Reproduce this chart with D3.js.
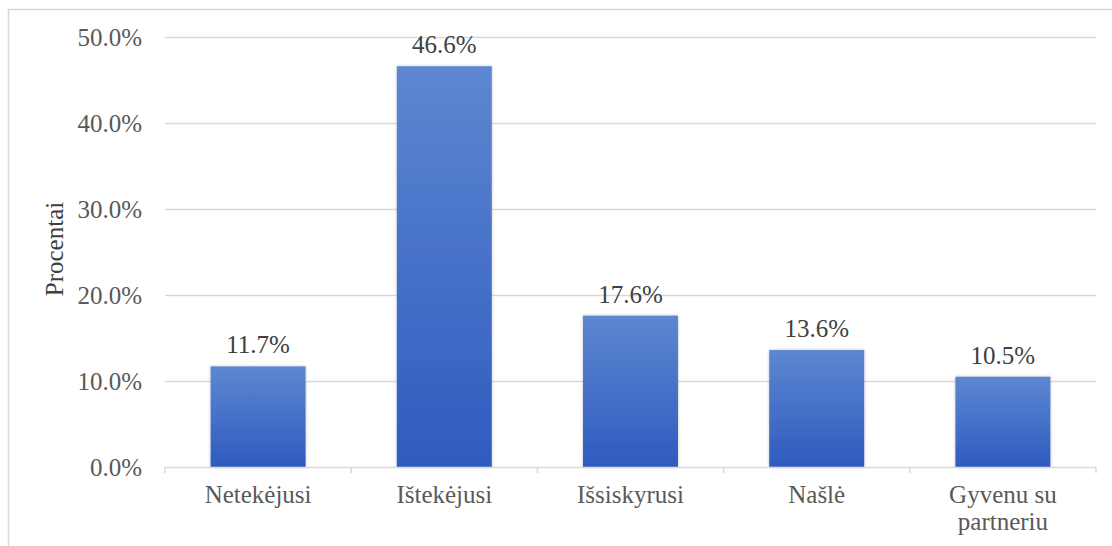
<!DOCTYPE html>
<html><head><meta charset="utf-8">
<script src="https://cdn.jsdelivr.net/npm/d3@7"></script>
<style>body{margin:0;background:#fff;}svg{display:block;} text{font-family:"Liberation Serif","Times New Roman",serif;}</style>
</head><body>
<svg id="c" width="1112" height="546"></svg>
<script>
const categories = [["Netekėjusi"],["Ištekėjusi"],["Išsiskyrusi"],["Našlė"],["Gyvenu su","partneriu"]];
const values = [11.7, 46.6, 17.6, 13.6, 10.5];
const yTicks = [0, 10, 20, 30, 40, 50];
const yTitle = "Procentai";

const svg = d3.select("#c");
const m = {l:165, r:1096, t:37, b:467};
const font = "Liberation Serif";
const fs = "25px";
const txt = "#595959";

// outer border
svg.append("path").attr("d","M8.5,546 L8.5,9.5 L1112,9.5").attr("fill","none").attr("stroke","#d9d9d9").attr("stroke-width",1.5);

const x = d3.scaleBand().domain(categories.map((d,i)=>i)).range([m.l,m.r]).paddingInner(0.49).paddingOuter(0.245);
const y = d3.scaleLinear().domain([0,50]).range([m.b,m.t]);

const defs = svg.append("defs");
const g = defs.append("linearGradient").attr("id","bg").attr("x1",0).attr("y1",0).attr("x2",0).attr("y2",1);
g.append("stop").attr("offset","0%").attr("stop-color","#5d87d1");
g.append("stop").attr("offset","100%").attr("stop-color","#2f5bbf");
const f = defs.append("filter").attr("id","sh").attr("x","-10%").attr("y","-10%").attr("width","120%").attr("height","120%");
f.append("feDropShadow").attr("dx",0).attr("dy",0).attr("stdDeviation",1.5).attr("flood-color","#000").attr("flood-opacity",0.25);

// grid
svg.append("g").selectAll("line").data(yTicks.filter(t=>t>0)).join("line")
  .attr("x1",m.l).attr("x2",m.r).attr("y1",d=>Math.round(y(d))+0.5).attr("y2",d=>Math.round(y(d))+0.5)
  .attr("stroke","#d9d9d9").attr("stroke-width",1.5);

// y axis labels
const ya = svg.append("g").attr("transform",`translate(${m.l},0)`)
  .call(d3.axisLeft(y).tickValues(yTicks).tickSize(0).tickPadding(23).tickFormat(d=>d.toFixed(1)+"%"));
ya.select(".domain").remove();
ya.attr("font-family",null).attr("font-size",null);
ya.selectAll("text").style("font-family",font).style("font-size",fs).attr("fill",txt);

// bars
svg.append("g").selectAll("rect").data(values).join("rect")
  .attr("x",(d,i)=>x(i)).attr("width",x.bandwidth())
  .attr("y",d=>y(d)).attr("height",d=>y(0)-y(d))
  .attr("fill","url(#bg)").attr("filter","url(#sh)");

// x axis
const xa = svg.append("g").attr("transform",`translate(0,${m.b})`);
xa.append("line").attr("x1",m.l).attr("x2",m.r).attr("y1",0.5).attr("y2",0.5).attr("stroke","#d9d9d9").attr("stroke-width",1.5);
xa.selectAll("line.t").data(d3.range(categories.length+1)).join("line").attr("class","t")
  .attr("x1",i=>m.l+i*(m.r-m.l)/categories.length).attr("x2",i=>m.l+i*(m.r-m.l)/categories.length)
  .attr("y1",0).attr("y2",6).attr("stroke","#d9d9d9").attr("stroke-width",1.5);
const lab = xa.selectAll("text.c").data(categories).join("text").attr("class","c")
  .attr("x",(d,i)=>x(i)+x.bandwidth()/2).attr("y",36)
  .attr("text-anchor","middle").style("font-family",font).style("font-size",fs).attr("fill",txt);
lab.each(function(d){
  const t=d3.select(this);
  d.forEach((s,k)=>t.append("tspan").attr("x",t.attr("x")).attr("dy",k===0?0:27).text(s));
});

// value labels
svg.append("g").selectAll("text").data(values).join("text")
  .attr("x",(d,i)=>x(i)+x.bandwidth()/2).attr("y",d=>y(d)-13)
  .attr("text-anchor","middle").style("font-family",font).style("font-size",fs).attr("fill","#404040")
  .text(d=>d.toFixed(1)+"%");

// y title
svg.append("text").attr("transform","translate(63,249) rotate(-90)").attr("text-anchor","middle")
  .style("font-family",font).style("font-size",fs).attr("fill","#404040").text(yTitle);
</script>
</body></html>
